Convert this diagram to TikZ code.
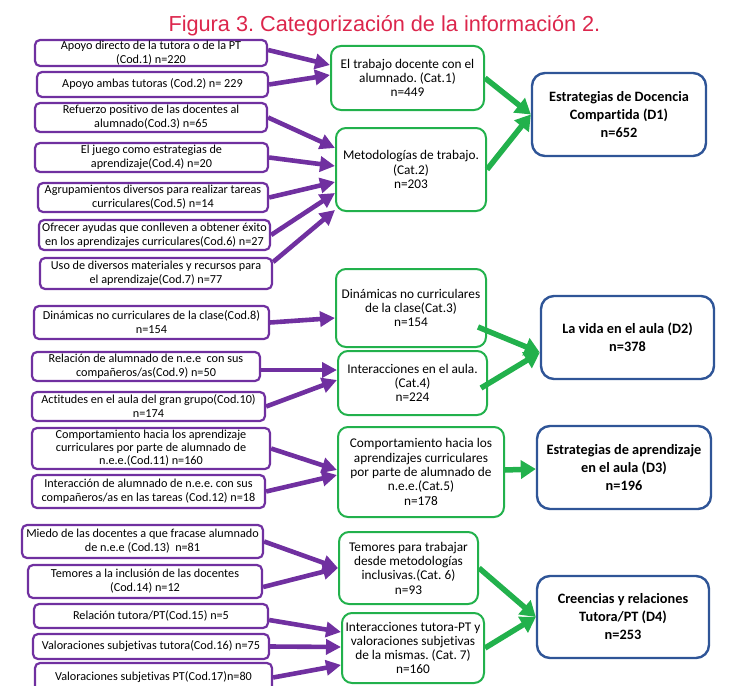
\documentclass[tikz,border=0pt]{standalone}
\usepackage{fontspec}
\setmainfont{Carlito}[Ligatures=NoCommon]
\newfontfamily\titlefont{Liberation Sans}
\usetikzlibrary{arrows.meta}
\definecolor{codepurple}{RGB}{112,48,160}
\definecolor{catgreen}{RGB}{34,177,76}
\definecolor{dimblue}{RGB}{47,85,151}
\definecolor{titlered}{RGB}{220,38,76}
\frenchspacing
\tikzset{%
  code box/.style={
    draw=codepurple,
    line width=2.2pt,
    rounded corners=5pt,
    inner sep=0pt,
    align=center,
    font=\fontsize{12.2}{14}\selectfont
  },
  cat box/.style={
    draw=catgreen,
    line width=2pt,
    rounded corners=10pt,
    inner sep=0pt,
    align=center,
    font=\fontsize{13.3}{14.3}\selectfont
  },
  dim box/.style={
    draw=dimblue,
    line width=2.4pt,
    rounded corners=13pt,
    inner sep=0pt,
    align=center,
    font=\bfseries\fontsize{14.3}{18}\selectfont
  },
  code arrow/.style={
    draw=codepurple,
    line width=4.6pt,
    -{Triangle[length=15pt,width=15pt]}
  },
  cat arrow/.style={
    draw=catgreen,
    line width=5.5pt,
    -{Triangle[length=15pt,width=18pt]}
  },
}

\begin{document}
\begin{tikzpicture}[x=1pt, y=-1pt]
    \useasboundingbox (0,0) rectangle (741,685);

    \node [anchor=base west, text=titlered, font=\titlefont\fontsize{21.7}{26}\selectfont] (title) at (165,32) {Figura 3. Categorización de la información 2.};

    \node [code box, minimum width=232pt, minimum height=26pt] (cod1) at (151,53) {Apoyo directo de la tutora o de la PT\\(Cod.1) n=220};
    \node [code box, minimum width=231pt, minimum height=25pt] (cod2) at (152.5,84.5) {Apoyo ambas tutoras (Cod.2) n= 229};
    \node [code box, minimum width=232pt, minimum height=29pt] (cod3) at (151,117.5) {Refuerzo positivo de las docentes al\\alumnado(Cod.3) n=65};
    \node [code box, minimum width=233pt, minimum height=29pt] (cod4) at (151.5,157.5) {El juego como estrategias de\\aprendizaje(Cod.4) n=20};
    \node [code box, minimum width=230pt, minimum height=29pt] (cod5) at (153,197.5) {Agrupamientos diversos para realizar tareas\\curriculares(Cod.5) n=14};
    \node [code box, minimum width=231pt, minimum height=30pt] (cod6) at (154.5,235) {Ofrecer ayudas que conlleven a obtener éxito\\en los aprendizajes curriculares(Cod.6) n=27};
    \node [code box, minimum width=232pt, minimum height=31pt] (cod7) at (156,273.5) {Uso de diversos materiales y recursos para\\el aprendizaje(Cod.7) n=77};
    \node [code box, minimum width=235pt, minimum height=33pt] (cod8) at (151.5,322.5) {Dinámicas no curriculares de la clase(Cod.8)\\n=154};
    \node [code box, minimum width=228pt, minimum height=29pt] (cod9) at (146,366.5) {Relación de alumnado de n.e.e\ \ con sus\\compañeros/as(Cod.9) n=50};
    \node [code box, minimum width=233pt, minimum height=29pt] (cod10) at (148.5,406.5) {Actitudes en el aula del gran grupo(Cod.10)\\n=174};
    \node [code box, minimum width=238pt, minimum height=41pt, font=\fontsize{12.2}{13}\selectfont] (cod11) at (151,448.5) {Comportamiento hacia los aprendizaje\\curriculares por parte de alumnado de\\n.e.e.(Cod.11) n=160};
    \node [code box, minimum width=233pt, minimum height=33pt] (cod12) at (148.5,491.5) {Interacción de alumnado de n.e.e. con sus\\compañeros/as en las tareas (Cod.12) n=18};
    \node [code box, minimum width=241pt, minimum height=33pt] (cod13) at (142.5,541.5) {Miedo de las docentes a que fracase alumnado\\de n.e.e (Cod.13)\ \ n=81};
    \node [code box, minimum width=234pt, minimum height=33pt] (cod14) at (145,581.5) {Temores a la inclusión de las docentes\\(Cod.14) n=12};
    \node [code box, minimum width=234pt, minimum height=24pt] (cod15) at (151,616) {Relación tutora/PT(Cod.15) n=5};
    \node [code box, minimum width=236pt, minimum height=25pt] (cod16) at (151,646.5) {Valoraciones subjetivas tutora(Cod.16) n=75};
    \node [code box, minimum width=237pt, minimum height=29pt] (cod17) at (153.5,677.5) {Valoraciones subjetivas PT(Cod.17)n=80};

    \node [cat box, minimum width=153pt, minimum height=64pt] (cat1) at (407.5,78) {El trabajo docente con el\\alumnado. (Cat.1)\\n=449};
    \node [cat box, minimum width=150pt, minimum height=83pt] (cat2) at (411,169.5) {Metodologías de trabajo.\\(Cat.2)\\n=203};
    \node [cat box, minimum width=150pt, minimum height=78pt] (cat3) at (411,308) {Dinámicas no curriculares\\de la clase(Cat.3)\\n=154};
    \node [cat box, minimum width=149pt, minimum height=64pt] (cat4) at (412.5,383) {Interacciones en el aula.\\(Cat.4)\\n=224};
    \node [cat box, minimum width=166pt, minimum height=90pt] (cat5) at (421,472) {Comportamiento hacia los\\aprendizajes curriculares\\por parte de alumnado de\\n.e.e.(Cat.5)\\n=178};
    \node [cat box, minimum width=139pt, minimum height=72pt] (cat6) at (408.5,568) {Temores para trabajar\\desde metodologías\\inclusivas.(Cat. 6)\\n=93};
    \node [cat box, minimum width=142pt, minimum height=70pt] (cat7) at (413,648) {Interacciones tutora-PT y\\valoraciones subjetivas\\de la mismas. (Cat. 7)\\n=160};

    \node [dim box, minimum width=174pt, minimum height=83pt] (d1) at (619,114.5) {Estrategias de Docencia\\Compartida (D1)\\n=652};
    \node [dim box, minimum width=173pt, minimum height=83pt] (d2) at (627.5,337.5) {La vida en el aula (D2)\\n=378};
    \node [dim box, minimum width=174pt, minimum height=83pt] (d3) at (624,467.5) {Estrategias de aprendizaje\\en el aula (D3)\\n=196};
    \node [dim box, minimum width=172pt, minimum height=82pt] (d4) at (623,617) {Creencias y relaciones\\Tutora/PT (D4)\\n=253};

    \foreach \c/\a/\k/\b in {1/3/1/13, 2/0/1/3, 3/0/2/21.5, 4/0/2/3.5, 5/0/2/-12.5, 6/0/2/-23.5, 7/11.5/2/-40.5,
                             8/0/3/-10, 9/-3.5/4/13, 10/0/4/3, 11/0/5/2, 12/0/5/-3,
                             13/0/6/0, 14/-5.5/6/0, 15/-4/7/16, 16/0/7/1, 17/0/7/-17}
      \draw [code arrow] ([yshift=\a pt]cod\c.east) -- ([yshift=\b pt]cat\k.west);

    \foreach \k/\s/\a/\d/\b in {1/0/0/1/0, 2/0/0/1/0, 3/-9/-19/2/-15, 4/-7/-5/2/-15,
                                5/0/2/3/-1.5, 6/0/0/4/0, 7/0/0/4/0}
      \draw [cat arrow] ([xshift=\s pt, yshift=\a pt]cat\k.east) -- ([yshift=\b pt]d\d.west);

\end{tikzpicture}
\end{document}
